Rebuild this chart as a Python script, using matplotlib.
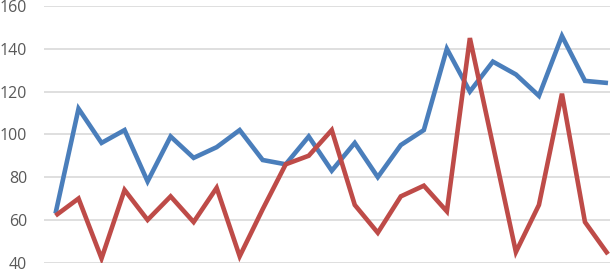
import matplotlib
matplotlib.use("Agg")
import matplotlib.pyplot as plt

categories = list(range(1, 26))
series_blue = [63, 112, 96, 102, 78, 99, 89, 94, 102, 88, 86, 99, 83, 96, 80, 95,
               102, 140, 120, 134, 128, 118, 146, 125, 124]
series_red = [62, 70, 42, 74, 60, 71, 59, 75, 43, 65, 86, 90, 102, 67, 54, 71,
              76, 64, 145, 95, 45, 67, 119, 59, 44]
y_ticks = [40, 60, 80, 100, 120, 140, 160]

fig = plt.figure(figsize=(6.10, 2.69), dpi=100)
ax = fig.add_axes([44 / 610, (269 - 262.7) / 269, (619.5 - 44) / 610, (262.7 - 6) / 269])

x = list(range(len(categories)))
ax.plot(x, series_blue, color="#4A7EBB", lw=3.3, solid_joinstyle="miter",
        solid_capstyle="butt", zorder=3)
ax.plot(x, series_red, color="#BE4B48", lw=3.3, solid_joinstyle="miter",
        solid_capstyle="butt", zorder=4)

ax.set_xlim(-0.5, len(categories) - 0.5)
ax.set_ylim(40, 160)
ax.set_yticks(y_ticks)
ax.set_yticklabels([str(v) for v in y_ticks], fontfamily="Open Sans",
                   fontsize=11.5, color="#595959")
ax.set_xticks([])
ax.tick_params(axis="y", length=0, pad=12)
ax.grid(axis="y", color="#D9D9D9", lw=1.2, zorder=0)
for s in ax.spines.values():
    s.set_visible(False)
ax.set_axisbelow(True)

fig.savefig("out.png", dpi=100)
